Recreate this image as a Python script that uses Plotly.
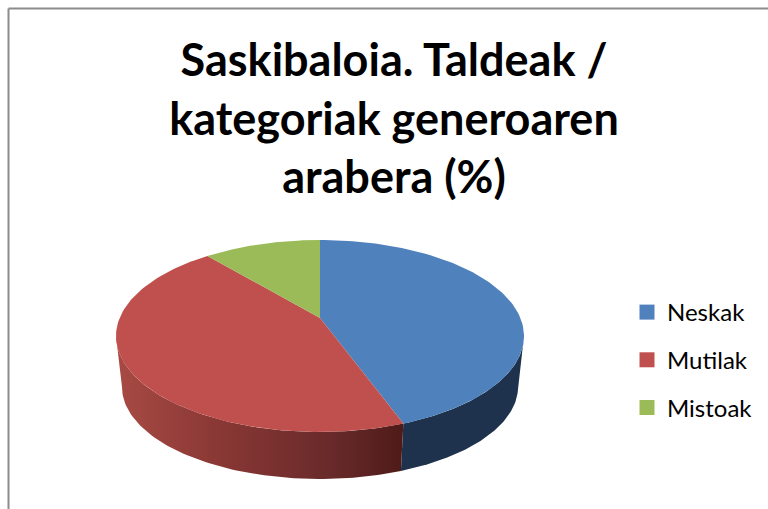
import numpy as np
import plotly.graph_objects as go

title_lines = ["Saskibaloia. Taldeak /", "kategoriak generoaren", "arabera (%)"]
categories = ["Neskak", "Mutilak", "Mistoak"]
values = [43.3, 47.4, 9.3]
colors = ["#4F81BD", "#C0504D", "#9BBB59"]

W, H = 768, 509
CX, CY, RX, RY = 320, 336, 204, 96
APEX_Y = 318
CY2, RX2, RY2 = 387, 198, 92


def top_rim(deg):
    t = np.radians(deg)
    return CX + RX * np.sin(t), CY - RY * np.cos(t)


def bottom_rim(deg):
    t = np.radians(deg)
    return CX + RX2 * np.sin(t), CY2 - RY2 * np.cos(t)


def wall(a0, a1):
    a = np.linspace(a0, a1, 80)
    x1, y1 = top_rim(a)
    x2, y2 = bottom_rim(a[::-1])
    return np.r_[x1, x2, x1[0]], np.r_[y1, y2, y1[0]]


edges = np.cumsum([0] + values) * 3.6
fig = go.Figure()

# side wall, visible part only (the lower half of the disc)
bx, by = wall(90, edges[1])
fig.add_trace(go.Scatter(x=bx, y=by, mode="lines", fill="toself", fillcolor="#1E324D",
                         line=dict(width=0, color="#1E324D"), showlegend=False, hoverinfo="skip"))
rx_, ry_ = wall(edges[1], 270)
fig.add_trace(go.Scatter(x=rx_, y=ry_, mode="lines", line=dict(width=0, color="#7a3030"),
                         fill="toself", showlegend=False, hoverinfo="skip",
                         fillgradient=dict(type="horizontal",
                                           colorscale=[[0, "#A84A44"], [0.35, "#8A3835"],
                                                       [0.75, "#682A2A"], [1, "#4E1B19"]])))

# top face
for i, name in enumerate(categories):
    a = np.linspace(edges[i], edges[i + 1], 120)
    x, y = top_rim(a)
    fig.add_trace(go.Scatter(x=np.r_[CX, x, CX], y=np.r_[APEX_Y, y, APEX_Y], mode="lines",
                             fill="toself", fillcolor=colors[i],
                             line=dict(width=0, color=colors[i]),
                             name=name, showlegend=False, hoverinfo="name"))

# legend entries
for i, name in enumerate(categories):
    fig.add_trace(go.Scatter(x=[None], y=[None], mode="markers", name=name, legendgroup=name,
                             marker=dict(symbol="square", size=15, color=colors[i])))

frame = dict(color="#8C8C8C", width=2)
fig.update_layout(
    width=W, height=H, margin=dict(l=0, r=0, t=0, b=0),
    paper_bgcolor="white", plot_bgcolor="white", autosize=False,
    title=dict(text="<br>".join(title_lines), x=394 / W, xanchor="center", y=1 - 76 / H, yanchor="top",
               font=dict(family="Lato", size=45, color="black", weight="bold")),
    xaxis=dict(range=[0, W], visible=False, fixedrange=True),
    yaxis=dict(range=[H, 0], visible=False, fixedrange=True),
    legend=dict(x=627 / W, y=1 - 290 / H, xanchor="left", yanchor="top", tracegroupgap=13.5,
                font=dict(family="Lato", size=24, color="black"), bgcolor="rgba(0,0,0,0)"),
    shapes=[
        dict(type="line", xref="x", yref="y", x0=8.5, x1=W, y0=8.5, y1=8.5, line=frame),
        dict(type="line", xref="x", yref="y", x0=8.5, x1=8.5, y0=8.5, y1=H, line=frame),
    ],
)
fig.write_html("out.html", config=dict(displayModeBar=False),
               post_script="document.body.style.margin='0';document.documentElement.style.overflow='hidden';")
